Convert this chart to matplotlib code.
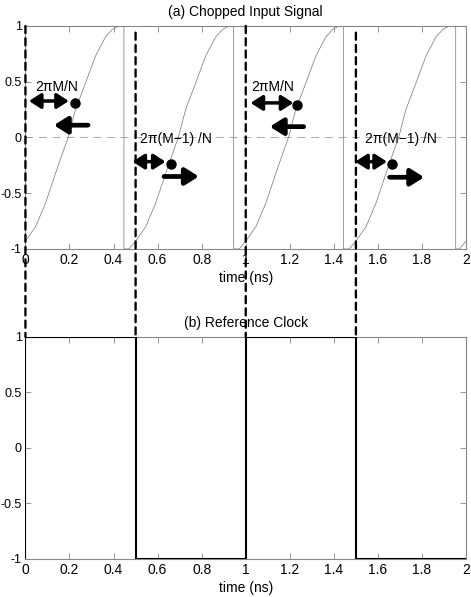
import matplotlib
matplotlib.use('Agg')
import matplotlib.pyplot as plt
from matplotlib.patches import ConnectionPatch

plt.rcParams['font.family'] = ['Liberation Sans', 'DejaVu Sans']
plt.rcParams['font.size'] = 10
plt.rcParams['axes.unicode_minus'] = False

# --- datos ---
# forma de una rampa (segmento 1), tiempo en ns y amplitud
ramp_t = [-0.03, 0.0, 0.046, 0.091, 0.137, 0.165, 0.194, 0.227, 0.273, 0.318, 0.363, 0.395, 0.424]
ramp_y = [-1.0, -0.93, -0.80, -0.59, -0.32, -0.16, 0.0, 0.25, 0.49, 0.73, 0.90, 0.97, 1.0]
seg_offsets = [0.0, 0.5, 1.0, 1.5, 2.0]
chop_times = [0.447, 0.945, 1.443, 1.953]

# reloj de referencia
clock_edges = [0.0, 0.5, 1.0, 1.5, 2.0]
clock_levels = [1, -1, 1, -1]

# lineas discontinuas verticales (x, altura de inicio en la grafica a)
guide_x = [0.0, 0.5, 1.0, 1.5]
guide_top = [1.0, 0.94, 1.0, 0.94]

# anotaciones
ann_text = ['2πM/N', '2π(M−1) /N', '2πM/N', '2π(M−1) /N']
ann_x = [0.14, 0.682, 1.123, 1.705]
ann_y = [0.455, -0.01, 0.455, -0.01]
dot_x = [0.224, 0.659, 1.233, 1.663]
dot_y = [0.307, -0.238, 0.29, -0.238]
dbl_x0 = [0.016, 0.486, 1.022, 1.497]
dbl_x1 = [0.197, 0.636, 1.216, 1.641]
dbl_y = [0.327, -0.217, 0.31, -0.217]
arr_x0 = [0.284, 0.629, 1.263, 1.653]
arr_x1 = [0.129, 0.787, 1.109, 1.81]
arr_y = [0.11, -0.35, 0.097, -0.357]

xticks = [0, 0.2, 0.4, 0.6, 0.8, 1.0, 1.2, 1.4, 1.6, 1.8, 2.0]
xticklabels = ['0', '0.2', '0.4', '0.6', '0.8', '1', '1.2', '1.4', '1.6', '1.8', '2']
yticks = [-1, -0.5, 0, 0.5, 1]
yticklabels = ['-1', '-0.5', '0', '0.5', '1']

# construir la senal troceada
sig_t = []
sig_y = []
for i, off in enumerate(seg_offsets):
    sig_t += [t + off for t in ramp_t]
    sig_y += ramp_y
    if i < len(chop_times):
        sig_t += [chop_times[i], chop_times[i]]
        sig_y += [1.0, -1.0]

fig = plt.figure(figsize=(4.71, 5.97), dpi=100)
ax1 = fig.add_axes([0.054, 0.583, 0.9355, 0.3735])
ax2 = fig.add_axes([0.054, 0.0637, 0.9355, 0.372])


def estilo(ax):
    ax.set_xlim(0, 2)
    ax.set_ylim(-1, 1)
    ax.set_xticks(xticks)
    ax.set_xticklabels(xticklabels)
    ax.set_yticks(yticks)
    ax.set_yticklabels(yticklabels)
    ax.tick_params(direction='in', top=True, right=True, length=4, width=0.6,
                   color='#888888', labelcolor='black')
    ax.tick_params(axis='x', pad=3, labelsize=10)
    ax.tick_params(axis='y', pad=2.5, labelsize=9)
    for s in ax.spines.values():
        s.set_color('#888888')
        s.set_linewidth(0.8)
    ax.set_xlabel('time (ns)', labelpad=3)


# (a) senal de entrada
ax1.axhline(0, color='#aaaaaa', lw=0.7, ls=(0, (8, 6)), zorder=1)
ax1.plot(sig_t, sig_y, color='#808080', lw=0.55, zorder=2)
for i in range(4):
    ax1.annotate('', xy=(dbl_x1[i], dbl_y[i]), xytext=(dbl_x0[i], dbl_y[i]),
                 arrowprops=dict(arrowstyle='<|-|>,head_length=0.7,head_width=0.45',
                                 lw=2.5, color='black', shrinkA=0, shrinkB=0), zorder=4)
    ax1.annotate('', xy=(arr_x1[i], arr_y[i]), xytext=(arr_x0[i], arr_y[i]),
                 arrowprops=dict(arrowstyle='-|>,head_length=0.8,head_width=0.5',
                                 lw=3.4, color='black', shrinkA=0, shrinkB=0), zorder=4)
    ax1.plot(dot_x[i], dot_y[i], 'o', color='black', ms=6.5, zorder=5)
    ax1.text(ann_x[i], ann_y[i], ann_text[i], ha='center', va='center', fontsize=10,
             zorder=5)
estilo(ax1)
ax1.set_title('(a) Chopped Input Signal', fontsize=10, pad=7)

# (b) reloj de referencia
ax2.stairs(clock_levels, clock_edges, baseline=-1, color='black', lw=1.5, zorder=3)
estilo(ax2)
ax2.set_title('(b) Reference Clock', fontsize=10, pad=7)

# lineas discontinuas que unen ambas graficas
for gx, gy in zip(guide_x, guide_top):
    con = ConnectionPatch(xyA=(gx, gy), coordsA=ax1.transData,
                          xyB=(gx, 1.0), coordsB=ax2.transData,
                          color='black', lw=1.7, linestyle=(0, (3, 2.2)))
    con.set_clip_on(False)
    con.set_zorder(6)
    fig.add_artist(con)

fig.savefig('out.png', dpi=100)
